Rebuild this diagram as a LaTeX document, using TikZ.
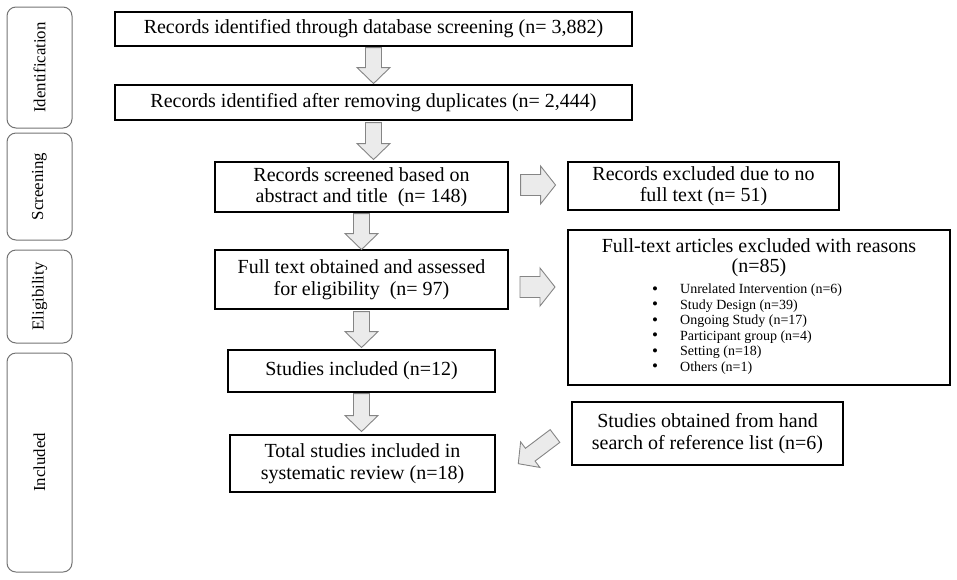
\documentclass[tikz,border=0pt]{standalone}
\usepackage{fontspec}
\setmainfont{Liberation Serif}
\usetikzlibrary{calc}
\begin{document}
\begin{tikzpicture}[x=1pt,y=-1pt,
  box/.style={draw=black,line width=1.1pt,fill=white,inner sep=1pt,align=center,font=\fontsize{20}{21.5}\selectfont},
  phase/.style={draw=black!55,line width=1pt,rounded corners=9pt,minimum width=65,inner sep=0pt},
  phasetext/.style={rotate=90,font=\fontsize{16.8}{18}\selectfont},
  arr/.style={draw=black!48,fill=black!8,line width=0.9pt,line join=miter},
  pics/blk/.style args={#1/#2/#3/#4}{code={
    \draw[arr] (0,-#3) -- (#1-#2,-#3) -- (#1-#2,-#4) -- (#1,0) -- (#1-#2,#4) -- (#1-#2,#3) -- (0,#3) -- cycle;}},
  item/.style={anchor=west,inner sep=0pt,font=\fontsize{14}{15}\selectfont}
]
\useasboundingbox (0,0) rectangle (957,579);

% phase side boxes
\node[phase,minimum height=121] (pid) at (39.5,67.5) {};
\node[phasetext] (tid) at (pid.center) {Identification};
\node[phase,minimum height=107] (psc) at (39.5,186.5) {};
\node[phasetext] (tsc) at (psc.center) {Screening};
\node[phase,minimum height=93] (pel) at (39.5,296.5) {};
\node[phasetext] (tel) at (pel.center) {Eligibility};
\node[phase,minimum height=219] (pin) at (39.5,462.5) {};
\node[phasetext] (tin) at (pin.center) {Included};

% main boxes
\node[box,minimum width=517,minimum height=34] (b1) at (373.5,29) {Records identified through database screening (n= 3,882)};
\node[box,minimum width=517,minimum height=35] (b2) at (373.5,102.5) {Records identified after removing duplicates (n= 2,444)};
\node[box,minimum width=293,minimum height=50] (b3) at (361.5,187) {Records screened based on\\abstract and title~ (n= 148)};
\node[box,minimum width=293,minimum height=59] (b4) at (361.5,279.5) {Full text obtained and assessed\\for eligibility~ (n= 97)};
\node[box,minimum width=267,minimum height=42] (b5) at (361.5,371) {Studies included (n=12)};
\node[box,minimum width=265,minimum height=57] (b6) at (362.5,463.5) {Total studies included in\\systematic review (n=18)};

\node[box,minimum width=271,minimum height=48] (e1) at (703.5,186) {Records excluded due to no\\full text (n= 51)};
\node[box,minimum width=382,minimum height=155] (e2) at (759,307.5) {};
\node[box,minimum width=271,minimum height=63] (h) at (707.5,433.5) {Studies obtained from hand\\search of reference list (n=6)};

% contents of the exclusion box
\node[inner sep=0pt,font=\fontsize{20}{21}\selectfont] (e2h) at (759,246) {Full-text articles excluded with reasons};
\node[inner sep=0pt,font=\fontsize{20}{21}\selectfont] (e2n) at (759,268) {(n=85)};
\node[item] (i1) at (680,290.5) {Unrelated Intervention (n=6)};
\node[item] (i2) at (680,306) {Study Design (n=39)};
\node[item] (i3) at (680,321.5) {Ongoing Study (n=17)};
\node[item] (i4) at (680,337) {Participant group (n=4)};
\node[item] (i5) at (680,352.5) {Setting (n=18)};
\node[item] (i6) at (680,368) {Others (n=1)};
\foreach \k in {1,...,6} {\node[inner sep=0pt,font=\fontsize{17}{18}\selectfont] (bul\k) at (i\k.west -| 655,0) {\textbullet};}

% block arrows
\pic[rotate=-90] at ($(b1.south)+(0,1)$) {blk=36/16/8/16.5};
\pic[rotate=-90] at ($(b2.south)+(0,2)$) {blk=37/16/8/16.5};
\pic[rotate=-90] at ($(b3.south)+(0,1)$) {blk=36/16/8/16.5};
\pic[rotate=-90] at ($(b4.south)+(0,2)$) {blk=36/16/8/16.5};
\pic[rotate=-90] at ($(b5.south)+(0,1)$) {blk=38/16/8/16.5};
\pic at ($(b3.east)+(12,-2)$) {blk=35/15/10.5/19};
\pic at (520,287) {blk=35/15/10.5/19};
\pic[rotate=217] at (555,436) {blk=46/15/8/16};
\end{tikzpicture}
\end{document}
